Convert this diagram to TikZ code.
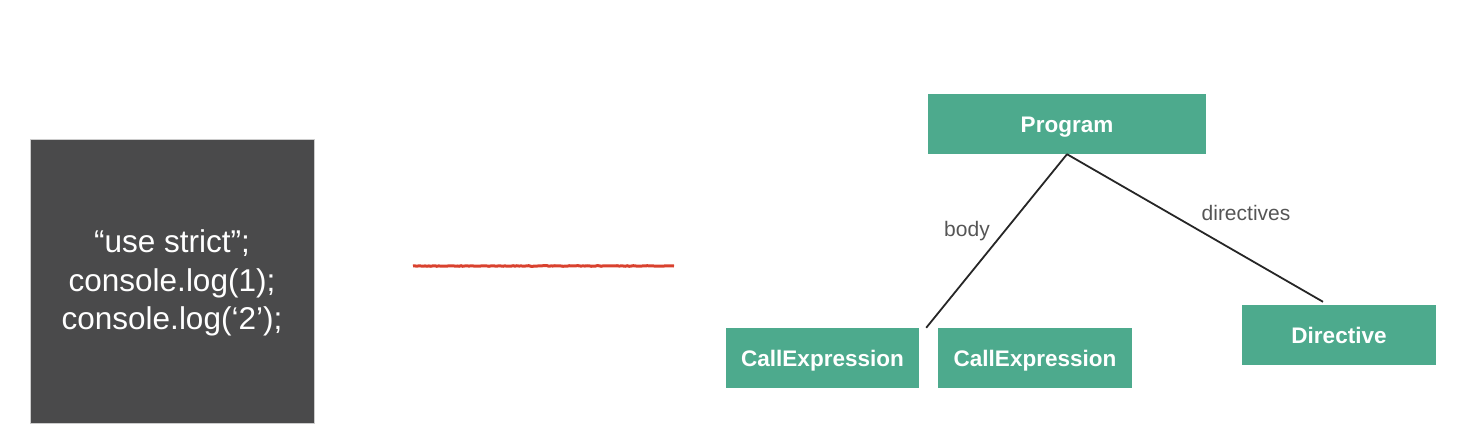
\documentclass[tikz,border=0pt]{standalone}
\usepackage{fontspec}
\setmainfont{Liberation Sans}
\usetikzlibrary{decorations.pathmorphing}
\definecolor{codebg}{HTML}{4A4A4B}
\definecolor{astgreen}{HTML}{4DAA8D}
\definecolor{redline}{HTML}{D9412E}
\definecolor{labelgray}{HTML}{555555}
\begin{document}
\begin{tikzpicture}[x=1pt,y=-1pt,
  astbox/.style={fill=astgreen, text=white, minimum height=60pt, inner sep=0pt,
    text height=17pt, text depth=0pt,
    font=\fontsize{22.5}{26}\selectfont\bfseries},
  edge/.style={draw=black!85, line width=1.8pt},
  elabel/.style={text=labelgray, font=\fontsize{21}{24}\selectfont}]
\useasboundingbox (0,0) rectangle (1459,441);
\node[fill=codebg, draw=black!20, line width=0.6pt, minimum width=284pt, minimum height=284pt, inner sep=0pt] (code) at (172,281) {};
\node[text=white, align=center, font=\fontsize{31.5}{38.5}\selectfont] (codetext) at (172,283)
  {“use strict”;\\console.log(1);\\console.log(‘2’);};
\coordinate (rs) at (413,266);
\coordinate (re) at (674,266);
\draw[redline, line width=3pt, decorate, decoration={random steps, segment length=2pt, amplitude=0.3pt}] (rs) -- (re);
\node[astbox, minimum width=278pt] (prog) at (1067,124) {Program};
\node[astbox, minimum width=193pt] (ce1) at (822.5,358) {CallExpression};
\node[astbox, minimum width=194pt] (ce2) at (1035,358) {CallExpression};
\node[astbox, minimum width=194pt] (dir) at (1339,335) {Directive};
\draw[edge] (prog.south) -- ([xshift=7pt]ce1.north east);
\draw[edge] (prog.south) -- ([xshift=-16pt,yshift=3pt]dir.north);
\node[elabel] (lbody) at (967,231) {body};
\node[elabel] (ldir) at (1246,213) {directives};
\end{tikzpicture}
\end{document}
